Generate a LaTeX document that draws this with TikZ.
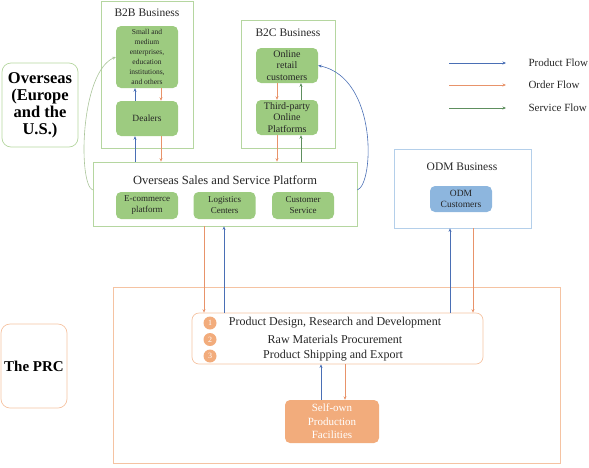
\documentclass[tikz,border=0pt]{standalone}
\usepackage{fontspec}
\setmainfont{Liberation Serif}
\usetikzlibrary{arrows.meta,calc}
\definecolor{BizGreen}{HTML}{9DCB80}
\definecolor{BizGreenLine}{HTML}{B5D6A0}
\definecolor{BizBlue}{HTML}{4A6FB5}
\definecolor{BizOrange}{HTML}{F2AC7C}
\definecolor{BizOrangeLine}{HTML}{F5C3A2}
\definecolor{BizOrangeDark}{HTML}{E8936A}
\definecolor{BizSky}{HTML}{8DB6DE}
\definecolor{BizSkyLine}{HTML}{B4CFEA}
\definecolor{BizService}{HTML}{5E8F5E}
\definecolor{BizDark}{HTML}{262626}
\tikzset{
  regionbox/.style={draw=#1, rounded corners=9pt, line width=0.7pt, align=center,
                    inner sep=0pt, text=black},
  bizframe/.style={draw=#1, line width=0.7pt, inner sep=0pt},
  greenbox/.style={fill=BizGreen, rounded corners=5pt, align=center, inner sep=0pt,
                   text=BizDark},
  frametitle/.style={font=\fontsize{11.5}{13}\selectfont, text=BizDark},
  prodflow/.style={-{Stealth[length=3.5pt,width=3pt]}, line width=0.6pt, BizBlue},
  ordflow/.style={-{Stealth[length=3.5pt,width=3pt]}, line width=0.6pt, BizOrangeDark},
  servflow/.style={-{Stealth[length=3.5pt,width=3pt]}, line width=0.6pt, BizService},
  stepnum/.style={circle, fill=BizOrange, inner sep=0pt, minimum size=13pt,
                  font=\fontsize{8}{8}\selectfont, text=white},
  stagetext/.style={font=\fontsize{12}{13}\selectfont, text=BizDark},
  legendtext/.style={font=\fontsize{11}{13}\selectfont, text=BizDark, anchor=west},
}

\begin{document}
\begin{tikzpicture}[x=1pt,y=-1pt]
  \useasboundingbox (0,0) rectangle (589,467);

  % left region labels
  \node[regionbox=BizGreenLine, minimum width=76pt, minimum height=84pt,
        font=\fontsize{16.5}{17}\selectfont\bfseries] (overseas) at (40,105)
    {Overseas\\(Europe\\and the\\U.S.)};
  \node[regionbox=BizOrangeLine, minimum width=66pt, minimum height=84pt,
        font=\fontsize{15}{17}\selectfont\bfseries] (theprc) at (34,366) {The PRC};

  % B2B business
  \node[bizframe=BizGreenLine, minimum width=92pt, minimum height=147pt] (b2b) at (147,74.5) {};
  \node[frametitle] (b2btitle) at (147,13) {B2B Business};
  \node[greenbox, minimum width=62pt, minimum height=62pt,
        font=\fontsize{7.5}{10}\selectfont] (sme) at (147,57)
    {Small and\\medium\\enterprises,\\education\\institutions,\\and others};
  \node[greenbox, minimum width=62pt, minimum height=35pt,
        font=\fontsize{9.5}{11}\selectfont] (dealers) at (147,118.5) {Dealers};

  % B2C business
  \node[bizframe=BizGreenLine, minimum width=94pt, minimum height=128pt] (b2c) at (288,84) {};
  \node[frametitle] (b2ctitle) at (288,33) {B2C Business};
  \node[greenbox, minimum width=62pt, minimum height=35pt,
        font=\fontsize{10}{11.5}\selectfont] (retail) at (287,65.5)
    {Online\\retail\\customers};
  \node[greenbox, minimum width=62pt, minimum height=35pt,
        font=\fontsize{10}{11.5}\selectfont] (thirdparty) at (287,117.5)
    {Third-party\\Online\\Platforms};

  % sales and service platform
  \node[bizframe=BizGreenLine, minimum width=264pt, minimum height=64pt] (platform) at (225,194) {};
  \node[font=\fontsize{12.5}{14}\selectfont, text=BizDark] (platformtitle) at (225,180)
    {Overseas Sales and Service Platform};
  \node[greenbox, minimum width=62pt, minimum height=27pt,
        font=\fontsize{9}{11}\selectfont] (ecom) at (147,205.5) {E-commerce\\platform};
  \node[greenbox, minimum width=62pt, minimum height=27pt,
        font=\fontsize{9}{11}\selectfont] (logistics) at (224.5,205.5) {Logistics\\Centers};
  \node[greenbox, minimum width=62pt, minimum height=27pt,
        font=\fontsize{9}{11}\selectfont] (custserv) at (303,205.5) {Customer\\Service};

  % ODM business
  \node[bizframe=BizSkyLine, minimum width=137pt, minimum height=79pt] (odm) at (462.5,188.5) {};
  \node[frametitle] (odmtitle) at (462,167) {ODM Business};
  \node[fill=BizSky, rounded corners=5pt, align=center, inner sep=0pt,
        minimum width=62pt, minimum height=26pt, text=BizDark,
        font=\fontsize{9.5}{11}\selectfont] (odmcust) at (461,199) {ODM\\Customers};

  % legend
  \coordinate (lgp) at (449,63);  \coordinate (lgpe) at (506,63);
  \coordinate (lgo) at (449,85);  \coordinate (lgoe) at (506,85);
  \coordinate (lgs) at (449,108); \coordinate (lgse) at (506,108);
  \draw[prodflow] (lgp) -- (lgpe);
  \draw[ordflow] (lgo) -- (lgoe);
  \draw[servflow] (lgs) -- (lgse);
  \node[legendtext] (lgptext) at (525,63) {Product Flow};
  \node[legendtext] (lgotext) at (525,85) {Order Flow};
  \node[legendtext] (lgstext) at (525,108) {Service Flow};

  % PRC operations
  \node[bizframe=BizOrangeLine, minimum width=447pt, minimum height=176pt] (prc) at (336.5,375) {};
  \node[draw=BizOrangeLine, line width=0.7pt, rounded corners=7pt, inner sep=0pt,
        minimum width=291pt, minimum height=51pt] (stages) at (337.5,338.5) {};
  \node[stepnum] (n1) at (210,323) {1};
  \node[stepnum] (n2) at (210,339.5) {2};
  \node[stepnum] (n3) at (210,356) {3};
  \node[stagetext] (st1) at (335,323) {Product Design, Research and Development};
  \node[stagetext] (st2) at (335,339.5) {Raw Materials Procurement};
  \node[stagetext] (st3) at (333,356) {Product Shipping and Export};
  \node[fill=BizOrange, rounded corners=5pt, align=center, inner sep=0pt,
        minimum width=94pt, minimum height=43pt, text=white,
        font=\fontsize{11}{13.5}\selectfont] (selfown) at (332,421.5)
    {Self-own\\Production\\Facilities};

  % flows inside B2B
  \draw[prodflow] ($(dealers.north)+(-12,0)$) -- ($(sme.south)+(-12,0)$);
  \draw[ordflow] ($(sme.south)+(14,0)$) -- ($(dealers.north)+(14,0)$);
  \draw[prodflow] ($(platform.north -| dealers.south)+(-12,0)$) -- ($(dealers.south)+(-12,0)$);
  \draw[ordflow] ($(dealers.south)+(14,0)$) -- ($(platform.north -| dealers.south)+(14,0)$);

  % flows inside B2C
  \draw[ordflow] ($(retail.south)+(-10,0)$) -- ($(thirdparty.north)+(-10,0)$);
  \draw[servflow] ($(thirdparty.north)+(14,0)$) -- ($(retail.south)+(14,0)$);
  \draw[ordflow] ($(thirdparty.south)+(-10,0)$) -- ($(platform.north -| thirdparty.south)+(-10,0)$);
  \draw[servflow] ($(platform.north -| thirdparty.south)+(14,0)$) -- ($(thirdparty.south)+(14,0)$);

  % curved flows
  \draw[servflow, BizGreenLine!80!gray] ($(platform.west)+(0,-4)$)
    .. controls (78,184) and (80,72) .. (sme.west);
  \draw[prodflow] ($(platform.east)+(0,-4)$)
    .. controls (374,184) and (378,78) .. (retail.east);

  % platform and ODM to PRC
  \draw[ordflow] ($(platform.south)+(-21,0)$) -- ($(stages.north -| platform.south)+(-21,0)$);
  \draw[prodflow] ($(stages.north -| platform.south)+(-1,0)$) -- ($(platform.south)+(-1,0)$);
  \draw[prodflow] ($(stages.north -| odm.south)+(-12.5,0)$) -- ($(odm.south)+(-12.5,0)$);
  \draw[ordflow] ($(odm.south)+(10.5,0)$) -- ($(stages.north -| odm.south)+(10.5,0)$);

  % production
  \draw[prodflow] ($(selfown.north)+(-11,0)$) -- ($(stages.south -| selfown.north)+(-11,0)$);
  \draw[ordflow] ($(stages.south -| selfown.north)+(13,0)$) -- ($(selfown.north)+(13,0)$);
\end{tikzpicture}
\end{document}
